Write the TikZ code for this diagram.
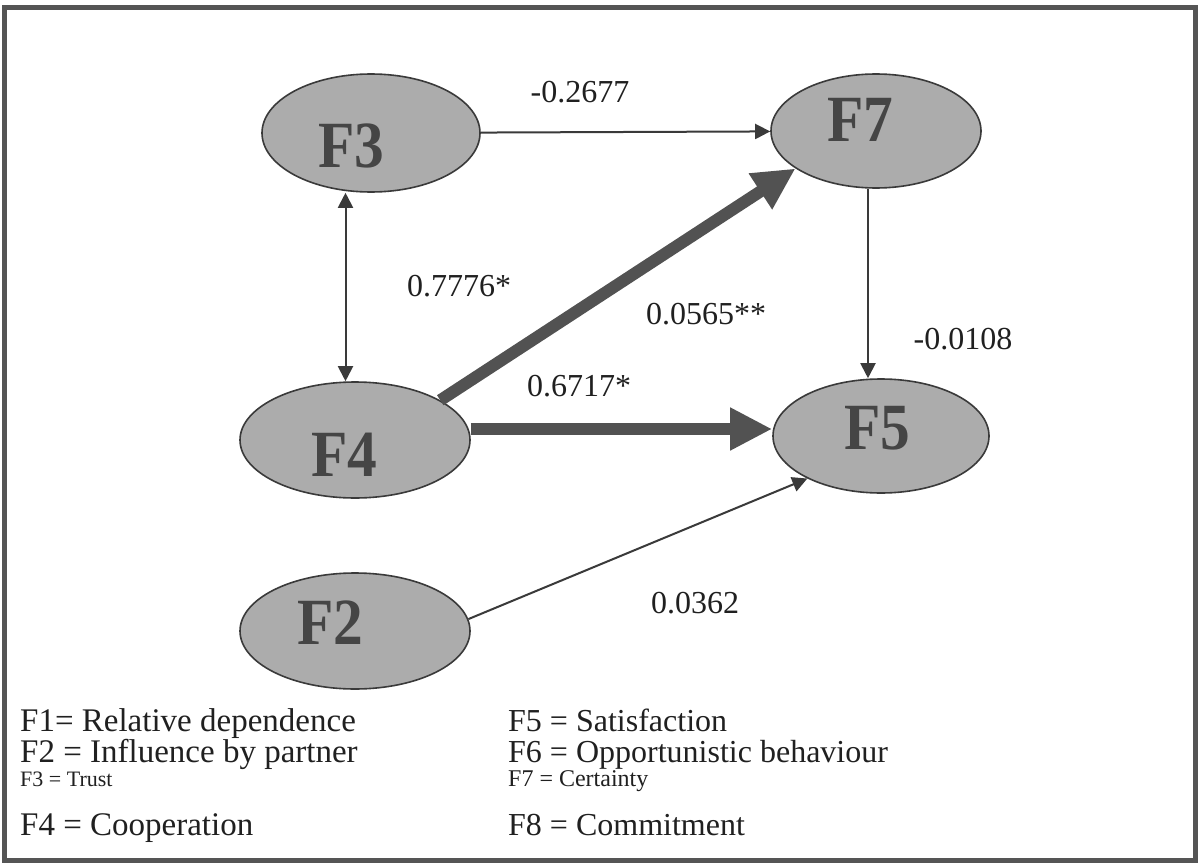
\documentclass[tikz,border=0pt]{standalone}
\usepackage{fontspec}
\setmainfont{Liberation Serif}
\usetikzlibrary{shapes.geometric,arrows.meta}

\definecolor{ellfill}{HTML}{ACACAC}
\definecolor{elltext}{HTML}{454545}
\definecolor{inkline}{HTML}{3A3A3A}
\definecolor{thickink}{HTML}{525252}
\definecolor{framegray}{HTML}{555555}
\definecolor{labelink}{HTML}{202020}

\tikzset{
  factor/.style 2 args={ellipse, draw=inkline, line width=1.6pt, fill=ellfill,
    inner sep=0pt, minimum width=#1, minimum height=#2},
  factorname/.style={text=elltext, inner sep=0pt,
    font=\fontsize{66}{66}\selectfont\bfseries},
  coef/.style={text=labelink, inner sep=0pt, font=\fontsize{32}{32}\selectfont},
  thinarrow/.style={draw=inkline, line width=2pt,
    -{Triangle[length=15pt,width=15pt]}},
  thinboth/.style={draw=inkline, line width=2pt,
    {Triangle[length=15pt,width=15pt]}-{Triangle[length=15pt,width=15pt]}},
  thickarrow/.style={draw=thickink, line width=12pt,
    -{Triangle[length=42pt,width=40pt]}},
  legleft/.style={anchor=base west, inner sep=0pt, text=labelink,
    font=\fontsize{33}{33}\selectfont},
  legright/.style={anchor=base west, inner sep=0pt, text=labelink,
    font=\fontsize{32}{32}\selectfont},
  legsmall/.style={anchor=base west, inner sep=0pt, text=labelink,
    font=\fontsize{#1}{#1}\selectfont},
}

\newcommand{\narrow}[1]{\scalebox{0.9}[1]{#1}}

\begin{document}
\begin{tikzpicture}[x=1pt,y=-1pt]
\useasboundingbox (0,0) rectangle (1200,867);
\fill[white] (0,0) rectangle (1200,867);

% outer frame
\draw[framegray, line width=5pt] (4.5,7.5) rectangle (1195.5,860.5);

% factor ellipses
\node[factor={218pt}{118pt}] (F3) at (371,133) {};
\node[factor={210pt}{114pt}] (F7) at (876,131) {};
\node[factor={230pt}{116pt}] (F4) at (355,440) {};
\node[factor={216pt}{114pt}] (F5) at (881,436) {};
\node[factor={230pt}{116pt}] (F2) at (355,631) {};

% factor names
\node[factorname] (t3) at (351,146) {\narrow{F3}};
\node[factorname] (t7) at (860,120) {\narrow{F7}};
\node[factorname] (t4) at (344,455) {\narrow{F4}};
\node[factorname] (t5) at (877,428) {\narrow{F5}};
\node[factorname] (t2) at (330,623) {\narrow{F2}};

% helper coordinates for the straight runs
\coordinate (v34) at (345.5,0);
\coordinate (v75) at (868,0);
\coordinate (h45) at (0,429);

% paths
\draw[thinarrow] (F3) -- (F7);
\draw[thinboth] (v34 |- F3.south) -- (v34 |- F4.north);
\draw[thinarrow] (v75 |- F7.south) -- (v75 |- F5.north);
\draw[thinarrow] (F2.6) -- (F5.210);
\draw[thickarrow] (F4.25) -- (F7.205);
\draw[thickarrow] (F4.east |- h45) -- (F5.west |- h45);

% path coefficients
\node[coef] (c37) at (580,92) {-0.2677};
\node[coef] (c34) at (459,286) {0.7776*};
\node[coef] (c47) at (706,314) {0.0565**};
\node[coef] (c75) at (963,339) {-0.0108};
\node[coef] (c45) at (579,386) {0.6717*};
\node[coef] (c25) at (695,603) {0.0362};

% legend
\node[legleft]       (k1) at (20,731) {F1= Relative dependence};
\node[legleft]       (k2) at (20,762) {F2 = Influence by partner};
\node[legsmall=22]   (k3) at (20,786) {F3 = Trust};
\node[legleft]       (k4) at (20,835) {F4 = Cooperation};
\node[legright]      (k5) at (508,731) {F5 = Satisfaction};
\node[legright]      (k6) at (508,762) {F6 = Opportunistic behaviour};
\node[legsmall=24]   (k7) at (508,786) {F7 = Certainty};
\node[legright]      (k8) at (508,835) {F8 = Commitment};
\end{tikzpicture}
\end{document}
